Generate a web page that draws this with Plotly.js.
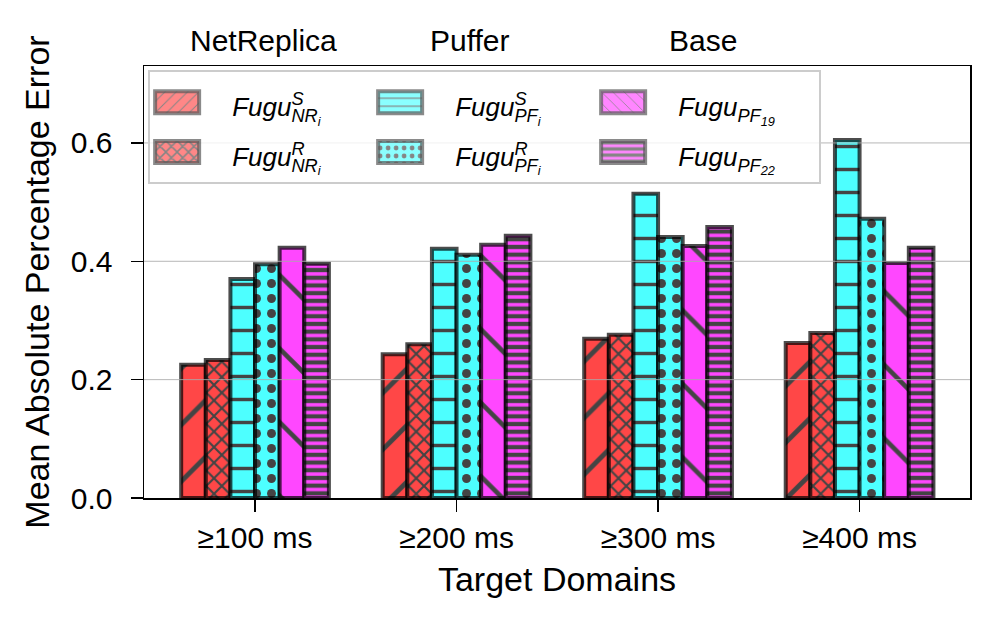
<!DOCTYPE html>
<html>
<head>
<meta charset="utf-8">
<script src="https://cdn.plot.ly/plotly-3.0.1.min.js"></script>
<style>html,body{margin:0;padding:0;background:#fff;}#chart{width:998px;height:629px;}</style>
</head>
<body>
<div id="chart"></div>
<script>
// ---- data ----
const categories = ['≥100 ms', '≥200 ms', '≥300 ms', '≥400 ms'];
const fuguNR_S = [0.225, 0.243, 0.269, 0.262];
const fuguNR_R = [0.233, 0.260, 0.276, 0.279];
const fuguPF_S = [0.370, 0.421, 0.514, 0.605];
const fuguPF_R = [0.395, 0.411, 0.441, 0.472];
const fuguPF19 = [0.423, 0.428, 0.426, 0.397];
const fuguPF22 = [0.396, 0.443, 0.458, 0.423];
const yTicks = [0.0, 0.2, 0.4, 0.6];
const yTickLabels = ['0.0', '0.2', '0.4', '0.6'];
const groupHeaders = ['NetReplica', 'Puffer', 'Base'];

const RED = '#ff4747', CYAN = '#4dffff', MAG = '#ff47ff';
const EDGE = 'rgba(0,0,0,0.70)', HATCH = '#444444';
const LS = 'font-size:26px';

function mk(name, y, color, pattern, rank) {
  return {
    type: 'bar', x: categories, y: y, name: name, legendrank: rank,
    marker: {
      color: color,
      line: {color: EDGE, width: 4},
      pattern: Object.assign({fillmode: 'replace', bgcolor: color, fgcolor: HATCH, fgopacity: 1}, pattern)
    },
    hoverinfo: 'skip'
  };
}

const traces = [
  mk('<span style="' + LS + '"><i>Fugu<sup>S</sup><sub>NR<sub>i</sub></sub></i></span>', fuguNR_S, RED, {shape: '/', size: 40, solidity: 0.12}, 1),
  mk('<span style="' + LS + '"><i>Fugu<sup>R</sup><sub>NR<sub>i</sub></sub></i></span>', fuguNR_R, RED, {shape: 'x', size: 11, solidity: 0.35}, 4),
  mk('<span style="' + LS + '"><i>Fugu<sup>S</sup><sub>PF<sub>i</sub></sub></i></span>', fuguPF_S, CYAN, {shape: '-', size: 23, solidity: 0.15}, 2),
  mk('<span style="' + LS + '"><i>Fugu<sup>R</sup><sub>PF<sub>i</sub></sub></i></span>', fuguPF_R, CYAN, {shape: '.', size: 15, solidity: 0.28}, 5),
  mk('<span style="' + LS + '"><i>Fugu<sub>PF<sub>19</sub></sub></i></span>', fuguPF19, MAG, {shape: '\\', size: 52, solidity: 0.09}, 3),
  mk('<span style="' + LS + '"><i>Fugu<sub>PF<sub>22</sub></sub></i></span>', fuguPF22, MAG, {shape: '-', size: 7.7, solidity: 0.55}, 6)
];

const FONT = 'Liberation Sans, Arial, Helvetica, sans-serif';
const headerX = [0.145, 0.395, 0.677];

const layout = {
  width: 998, height: 629,
  margin: {l: 144, r: 28, t: 66, b: 131},
  paper_bgcolor: '#fff', plot_bgcolor: '#fff',
  font: {family: FONT, color: '#000', size: 30},
  barmode: 'group', bargap: 0.267, bargroupgap: 0,
  showlegend: true,
  legend: {
    orientation: 'h', x: 0.005, y: 0.99, xanchor: 'left', yanchor: 'top',
    bgcolor: 'rgba(255,255,255,0.8)', bordercolor: '#cccccc', borderwidth: 2,
    font: {family: FONT, size: 36, color: '#000'},
    entrywidth: 136, entrywidthmode: 'pixels', itemwidth: 72,
    traceorder: 'normal', itemclick: false, itemdoubleclick: false
  },
  xaxis: {
    type: 'category', range: [-0.551, 3.548],
    showline: true, mirror: true, linecolor: '#000', linewidth: 1.5,
    ticks: 'outside', ticklen: 12, tickwidth: 1.5, tickcolor: '#000',
    ticklabelstandoff: 0,
    tickfont: {size: 30}, showgrid: false, zeroline: false,
    title: {text: 'Target Domains', font: {size: 34}, standoff: 14}
  },
  yaxis: {
    range: [0, 0.730], tickvals: yTicks, ticktext: yTickLabels,
    showline: true, mirror: true, linecolor: '#000', linewidth: 1.5,
    ticks: 'outside', ticklen: 12, tickwidth: 1.5, tickcolor: '#000',
    ticklabelstandoff: 12,
    tickfont: {size: 30}, showgrid: false, zeroline: false,
    title: {text: 'Mean Absolute Percentage Error', font: {size: 34}, standoff: 11}
  },
  shapes: yTicks.filter(v => v > 0).map(v => ({
    type: 'line', xref: 'paper', yref: 'y', x0: 0, x1: 1, y0: v, y1: v,
    line: {color: 'rgba(170,170,170,0.85)', width: 1}, layer: 'above'
  })),
  annotations: groupHeaders.map((t, i) => ({
    text: t, xref: 'paper', yref: 'paper', x: headerX[i], y: 1.06,
    xanchor: 'center', yanchor: 'middle', showarrow: false, font: {size: 30}
  }))
};

function fixLegend(gd) {
  gd.querySelectorAll('.legend .legendpoints').forEach(function (g) {
    g.setAttribute('opacity', '0.65');
  });
  gd.querySelectorAll('.legend .legendpoints path').forEach(function (p) {
    p.setAttribute('d', 'M22,11H-22V-11H22Z');
    p.setAttribute('transform', 'translate(27,0)');
  });
  gd.querySelectorAll('.legendtext').forEach(function (t) {
    if (t.getAttribute('data-stacked')) return;
    const ts = Array.from(t.querySelectorAll('tspan'));
    const sup = ts.find(s => s.textContent === 'S' || s.textContent === 'R');
    if (!sup) return;
    const w = sup.getComputedTextLength();
    const idx = ts.indexOf(sup);
    const sub = ts.slice(idx + 1).find(s => /^(NR|PF)/.test(s.textContent));
    if (sub) { sub.setAttribute('dx', -w); t.setAttribute('data-stacked', '1'); }
  });
}

Plotly.newPlot('chart', traces, layout, {displayModeBar: false, staticPlot: true}).then(function (gd) {
  fixLegend(gd);
  setTimeout(function () { fixLegend(gd); }, 50);
  setTimeout(function () { fixLegend(gd); }, 300);
});
</script>
</body>
</html>
